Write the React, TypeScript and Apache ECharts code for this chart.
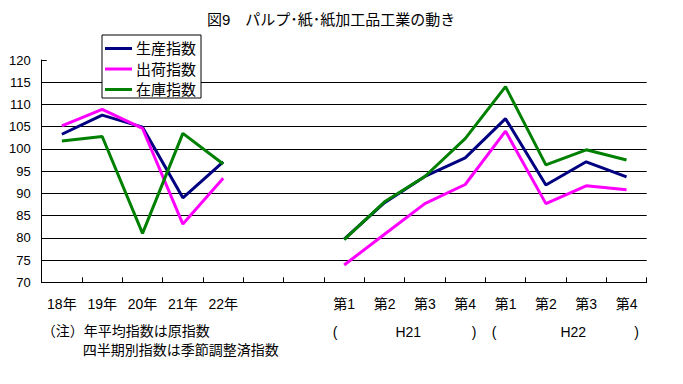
import React, { useEffect, useRef } from "react";
import * as echarts from "echarts";

const categories = ["18年", "19年", "20年", "21年", "22年", "", "", "第1", "第2", "第3", "第4", "第1", "第2", "第3", "第4"];
const yTicks = [70, 75, 80, 85, 90, 95, 100, 105, 110, 115, 120];
const seriesNames = ["生産指数", "出荷指数", "在庫指数"];
const production = [103.3, 107.6, 104.9, 89.0, 97.1, null, null, 79.7, 87.9, 93.8, 98.0, 106.8, 91.9, 97.1, 93.7];
const shipment = [105.2, 108.9, 104.6, 83.1, 93.4, null, null, 73.9, 80.8, 87.7, 92.0, 104.0, 87.7, 91.7, 90.8];
const inventory = [101.8, 102.8, 81.0, 103.5, 96.6, null, null, 79.6, 88.1, 93.8, 102.3, 114.0, 96.4, 99.8, 97.5];
const colors = ["#000080", "#FF00FF", "#008000"];
const titleText = "図9　パルプ･紙･紙加工品工業の動き";
const note1 = "（注）年平均指数は原指数";
const note2 = "四半期別指数は季節調整済指数";

const FONT = "'Liberation Sans', 'Noto Sans CJK JP', sans-serif";

export default function App() {
  const ref = useRef<HTMLDivElement>(null);
  useEffect(() => {
    if (!ref.current) return;
    const chart = echarts.init(ref.current, undefined, { renderer: "svg" });
    const data = [production, shipment, inventory];
    chart.setOption({
      animation: false,
      backgroundColor: "#fff",
      textStyle: { fontFamily: FONT, color: "#000" },
      title: {
        text: titleText,
        left: 207,
        top: 12,
        padding: 0,
        textStyle: { fontSize: 15, fontWeight: "normal", color: "#000", fontFamily: FONT },
      },
      legend: {
        orient: "vertical",
        left: 102,
        top: 35,
        padding: [6, 5, 1, 3],
        itemGap: 5.5,
        itemWidth: 27,
        itemHeight: 3,
        icon: "rect",
        backgroundColor: "#fff",
        borderColor: "#000",
        borderWidth: 1,
        data: seriesNames,
        textStyle: { fontSize: 15, lineHeight: 15, color: "#000", fontFamily: FONT, padding: [0, 0, 0, -1] },
      },
      grid: { left: 41.7, right: 36.3, top: 60, bottom: 101.7, containLabel: false },
      xAxis: {
        type: "category",
        data: categories,
        boundaryGap: true,
        axisLine: { show: true, lineStyle: { color: "#000", width: 1 } },
        axisTick: { show: true, inside: true, length: 5, lineStyle: { color: "#000" }, interval: 0 },
        axisLabel: { interval: 0, margin: 15, fontSize: 14, color: "#000", fontFamily: FONT },
        splitLine: { show: false },
      },
      yAxis: {
        type: "value",
        min: yTicks[0],
        max: yTicks[yTicks.length - 1],
        interval: 5,
        axisLine: { show: true, lineStyle: { color: "#000", width: 1 } },
        axisTick: { show: true, inside: true, length: 5, lineStyle: { color: "#000" } },
        axisLabel: { margin: 11, fontSize: 13, color: "#000", fontFamily: FONT },
        splitLine: { show: true, showMaxLine: false, lineStyle: { color: "#000", width: 1 } },
      },
      series: seriesNames.map((name, i) => ({
        name,
        type: "line",
        data: data[i],
        showSymbol: false,
        symbol: "none",
        connectNulls: false,
        itemStyle: { color: colors[i] },
        lineStyle: { color: colors[i], width: 3 },
        z: 2 + i,
      })),
      graphic: [
        { type: "text", left: 41.7, top: 324, style: { text: note1, fontSize: 14, fill: "#000", fontFamily: FONT } },
        { type: "text", left: 82.7, top: 342.5, style: { text: note2, fontSize: 14, fill: "#000", fontFamily: FONT } },
        { type: "text", x: 335, y: 332.3, style: { text: "(", fontSize: 14, fill: "#000", fontFamily: FONT, align: "center", verticalAlign: "middle" } },
        { type: "text", x: 408.3, y: 332.3, style: { text: "H21", fontSize: 14, fill: "#000", fontFamily: FONT, align: "center", verticalAlign: "middle" } },
        { type: "text", x: 474, y: 332.3, style: { text: ")", fontSize: 14, fill: "#000", fontFamily: FONT, align: "center", verticalAlign: "middle" } },
        { type: "text", x: 494, y: 332.3, style: { text: "(", fontSize: 14, fill: "#000", fontFamily: FONT, align: "center", verticalAlign: "middle" } },
        { type: "text", x: 573.3, y: 332.3, style: { text: "H22", fontSize: 14, fill: "#000", fontFamily: FONT, align: "center", verticalAlign: "middle" } },
        { type: "text", x: 636.7, y: 332.3, style: { text: ")", fontSize: 14, fill: "#000", fontFamily: FONT, align: "center", verticalAlign: "middle" } },
      ],
    });
    return () => chart.dispose();
  }, []);
  return <div ref={ref} style={{ position: "fixed", left: 0, top: 0, width: 683, height: 384 }} />;
}
